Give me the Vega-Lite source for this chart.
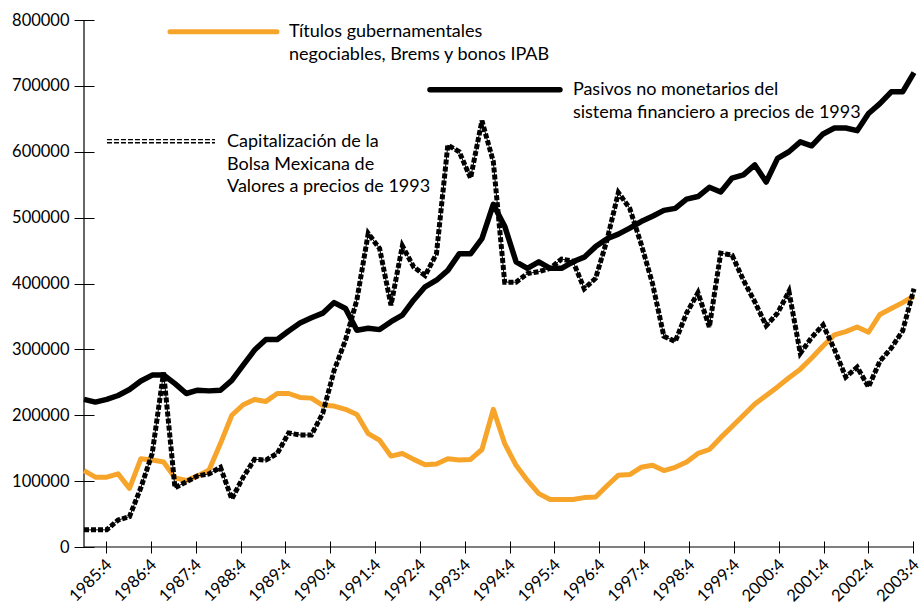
{
  "$schema": "https://vega.github.io/schema/vega-lite/v6.json",
  "width": 830,
  "height": 527,
  "autosize": "none",
  "padding": {"left": 84, "top": 20, "right": 10, "bottom": 61},
  "background": "white",
  "config": {"view": {"stroke": null}, "font": "Lato"},
  "datasets": {
    "series": [
      {"n": 0, "pasivos": 224000, "titulos": 116000, "bolsa": 26000},
      {"n": 1, "pasivos": 220000, "titulos": 106000, "bolsa": 26000},
      {"n": 2, "pasivos": 224000, "titulos": 106000, "bolsa": 26000},
      {"n": 3, "pasivos": 230000, "titulos": 111000, "bolsa": 41000},
      {"n": 4, "pasivos": 239000, "titulos": 89000, "bolsa": 46000},
      {"n": 5, "pasivos": 252000, "titulos": 134000, "bolsa": 90000},
      {"n": 6, "pasivos": 261000, "titulos": 132000, "bolsa": 142000},
      {"n": 7, "pasivos": 261000, "titulos": 129000, "bolsa": 265000},
      {"n": 8, "pasivos": 248000, "titulos": 105000, "bolsa": 90000},
      {"n": 9, "pasivos": 233000, "titulos": 101000, "bolsa": 99000},
      {"n": 10, "pasivos": 238000, "titulos": 108000, "bolsa": 108000},
      {"n": 11, "pasivos": 237000, "titulos": 117000, "bolsa": 111000},
      {"n": 12, "pasivos": 238000, "titulos": 157000, "bolsa": 121000},
      {"n": 13, "pasivos": 253000, "titulos": 200000, "bolsa": 73000},
      {"n": 14, "pasivos": 276000, "titulos": 216000, "bolsa": 106000},
      {"n": 15, "pasivos": 299000, "titulos": 224000, "bolsa": 133000},
      {"n": 16, "pasivos": 315000, "titulos": 221000, "bolsa": 132000},
      {"n": 17, "pasivos": 315000, "titulos": 233000, "bolsa": 142000},
      {"n": 18, "pasivos": 328000, "titulos": 233000, "bolsa": 173000},
      {"n": 19, "pasivos": 340000, "titulos": 227000, "bolsa": 170000},
      {"n": 20, "pasivos": 348000, "titulos": 226000, "bolsa": 170000},
      {"n": 21, "pasivos": 355000, "titulos": 215000, "bolsa": 203000},
      {"n": 22, "pasivos": 371000, "titulos": 214000, "bolsa": 268000},
      {"n": 23, "pasivos": 362000, "titulos": 209000, "bolsa": 314000},
      {"n": 24, "pasivos": 329000, "titulos": 201000, "bolsa": 375000},
      {"n": 25, "pasivos": 332000, "titulos": 172000, "bolsa": 476000},
      {"n": 26, "pasivos": 330000, "titulos": 162000, "bolsa": 453000},
      {"n": 27, "pasivos": 342000, "titulos": 138000, "bolsa": 367000},
      {"n": 28, "pasivos": 352000, "titulos": 142000, "bolsa": 457000},
      {"n": 29, "pasivos": 375000, "titulos": 133000, "bolsa": 425000},
      {"n": 30, "pasivos": 395000, "titulos": 125000, "bolsa": 412000},
      {"n": 31, "pasivos": 405000, "titulos": 126000, "bolsa": 445000},
      {"n": 32, "pasivos": 420000, "titulos": 134000, "bolsa": 610000},
      {"n": 33, "pasivos": 445000, "titulos": 132000, "bolsa": 600000},
      {"n": 34, "pasivos": 445000, "titulos": 133000, "bolsa": 560000},
      {"n": 35, "pasivos": 468000, "titulos": 148000, "bolsa": 647000},
      {"n": 36, "pasivos": 520000, "titulos": 209000, "bolsa": 585000},
      {"n": 37, "pasivos": 487000, "titulos": 157000, "bolsa": 402000},
      {"n": 38, "pasivos": 433000, "titulos": 124000, "bolsa": 402000},
      {"n": 39, "pasivos": 423000, "titulos": 101000, "bolsa": 415000},
      {"n": 40, "pasivos": 433000, "titulos": 81000, "bolsa": 418000},
      {"n": 41, "pasivos": 423000, "titulos": 72000, "bolsa": 423000},
      {"n": 42, "pasivos": 423000, "titulos": 72000, "bolsa": 437000},
      {"n": 43, "pasivos": 433000, "titulos": 72000, "bolsa": 434000},
      {"n": 44, "pasivos": 440000, "titulos": 75000, "bolsa": 392000},
      {"n": 45, "pasivos": 456000, "titulos": 76000, "bolsa": 408000},
      {"n": 46, "pasivos": 468000, "titulos": 93000, "bolsa": 466000},
      {"n": 47, "pasivos": 475000, "titulos": 109000, "bolsa": 538000},
      {"n": 48, "pasivos": 484000, "titulos": 110000, "bolsa": 514000},
      {"n": 49, "pasivos": 494000, "titulos": 121000, "bolsa": 460000},
      {"n": 50, "pasivos": 502000, "titulos": 124000, "bolsa": 400000},
      {"n": 51, "pasivos": 511000, "titulos": 116000, "bolsa": 320000},
      {"n": 52, "pasivos": 514000, "titulos": 121000, "bolsa": 312000},
      {"n": 53, "pasivos": 528000, "titulos": 129000, "bolsa": 355000},
      {"n": 54, "pasivos": 532000, "titulos": 142000, "bolsa": 386000},
      {"n": 55, "pasivos": 546000, "titulos": 148000, "bolsa": 334000},
      {"n": 56, "pasivos": 539000, "titulos": 166000, "bolsa": 446000},
      {"n": 57, "pasivos": 560000, "titulos": 183000, "bolsa": 443000},
      {"n": 58, "pasivos": 565000, "titulos": 200000, "bolsa": 405000},
      {"n": 59, "pasivos": 580000, "titulos": 217000, "bolsa": 372000},
      {"n": 60, "pasivos": 554000, "titulos": 230000, "bolsa": 336000},
      {"n": 61, "pasivos": 590000, "titulos": 243000, "bolsa": 355000},
      {"n": 62, "pasivos": 600000, "titulos": 257000, "bolsa": 388000},
      {"n": 63, "pasivos": 615000, "titulos": 270000, "bolsa": 294000},
      {"n": 64, "pasivos": 609000, "titulos": 287000, "bolsa": 318000},
      {"n": 65, "pasivos": 627000, "titulos": 305000, "bolsa": 337000},
      {"n": 66, "pasivos": 636000, "titulos": 322000, "bolsa": 300000},
      {"n": 67, "pasivos": 636000, "titulos": 327000, "bolsa": 258000},
      {"n": 68, "pasivos": 632000, "titulos": 334000, "bolsa": 273000},
      {"n": 69, "pasivos": 658000, "titulos": 326000, "bolsa": 243000},
      {"n": 70, "pasivos": 673000, "titulos": 353000, "bolsa": 282000},
      {"n": 71, "pasivos": 691000, "titulos": 362000, "bolsa": 302000},
      {"n": 72, "pasivos": 691000, "titulos": 371000, "bolsa": 328000},
      {"n": 73, "pasivos": 720000, "titulos": 381000, "bolsa": 392000}
    ],
    "textos": [
      {"texto": "Títulos gubernamentales", "n": 18.03, "valor": 782000},
      {"texto": "negociables, Brems y bonos IPAB", "n": 18.03, "valor": 747000},
      {"texto": "Pasivos no monetarios del", "n": 43.0, "valor": 694000},
      {"texto": "sistema financiero a precios de 1993", "n": 43.0, "valor": 659000},
      {"texto": "Capitalización de la", "n": 12.58, "valor": 615000},
      {"texto": "Bolsa Mexicana de", "n": 12.58, "valor": 580000},
      {"texto": "Valores a precios de 1993", "n": 12.58, "valor": 546000}
    ]
  },
  "encoding": {
    "x": {
      "field": "n", "type": "quantitative", "title": null,
      "scale": {"domain": [0, 73], "nice": false, "zero": false},
      "axis": {
        "values": [1.935, 5.88, 9.824, 13.769, 17.713, 21.658, 25.603, 29.547, 33.492, 37.436, 41.381, 45.326, 49.27, 53.215, 57.159, 61.104, 65.049, 68.993, 72.938],
        "labelExpr": "(1985 + round((datum.value - 1.935) / 3.9446)) + ':4'",
        "labelAngle": -45, "labelFontSize": 16.5, "labelFont": "Lato", "labelColor": "#000",
        "domain": false, "grid": false, "tickSize": 12, "tickColor": "#000", "tickWidth": 1,
        "offset": -6, "labelPadding": 3, "labelOffset": -3, "title": null,
        "labelOverlap": false, "labelBound": false, "labelFlush": false
      }
    },
    "y": {
      "field": "valor", "type": "quantitative", "title": null,
      "scale": {"domain": [0, 800000], "nice": false},
      "axis": {
        "values": [0, 100000, 200000, 300000, 400000, 500000, 600000, 700000, 800000],
        "format": "d", "labelFontSize": 16.5, "labelFont": "Lato", "labelColor": "#000",
        "domain": false, "grid": false, "tickSize": 20, "tickColor": "#000", "tickWidth": 1,
        "offset": -10, "labelPadding": 5, "title": null, "labelFlush": false, "labelOverlap": false
      }
    }
  },
  "layer": [
    {
      "data": {"values": [{"n": 0, "n2": 73, "valor": 0, "valor2": 0}, {"n": 0, "n2": 0, "valor": 0, "valor2": 800000}]},
      "mark": {"type": "rule", "color": "#000", "strokeWidth": 1.2},
      "encoding": {"x2": {"field": "n2"}, "y2": {"field": "valor2"}}
    },
    {
      "data": {"name": "series"},
      "transform": [{"fold": ["titulos"], "as": ["serie", "valor"]}],
      "mark": {"type": "line", "color": "#F7A42B", "strokeWidth": 5, "strokeJoin": "round"}
    },
    {
      "data": {"name": "series"},
      "transform": [{"fold": ["pasivos"], "as": ["serie", "valor"]}],
      "mark": {"type": "line", "color": "#000", "strokeWidth": 5.5, "strokeJoin": "round"}
    },
    {
      "data": {"name": "series"},
      "transform": [{"fold": ["bolsa"], "as": ["serie", "valor"]}],
      "mark": {"type": "line", "color": "#000", "strokeWidth": 1}
    },
    {
      "data": {"name": "series"},
      "transform": [{"fold": ["bolsa"], "as": ["serie", "valor"]}],
      "mark": {"type": "line", "color": "#000", "strokeWidth": 5, "strokeDash": [5, 2]}
    },
    {
      "data": {"values": [{"n": 7.56, "n2": 16.97, "valor": 782000}]},
      "mark": {"type": "rule", "color": "#F7A42B", "strokeWidth": 5, "strokeCap": "round"},
      "encoding": {"x2": {"field": "n2"}}
    },
    {
      "data": {"values": [{"n": 30.43, "n2": 41.86, "valor": 694000}]},
      "mark": {"type": "rule", "color": "#000", "strokeWidth": 5.5, "strokeCap": "round"},
      "encoding": {"x2": {"field": "n2"}}
    },
    {
      "data": {"values": [{"n": 2.02, "n2": 11.52, "valor": 618300}, {"n": 2.02, "n2": 11.52, "valor": 613700}]},
      "mark": {"type": "rule", "color": "#000", "strokeWidth": 1.3, "strokeDash": [5, 2]},
      "encoding": {"x2": {"field": "n2"}}
    },
    {
      "data": {"name": "textos"},
      "mark": {"type": "text", "align": "left", "baseline": "middle", "font": "Lato", "fontSize": 18, "color": "#000"},
      "encoding": {"text": {"field": "texto"}}
    }
  ]
}
